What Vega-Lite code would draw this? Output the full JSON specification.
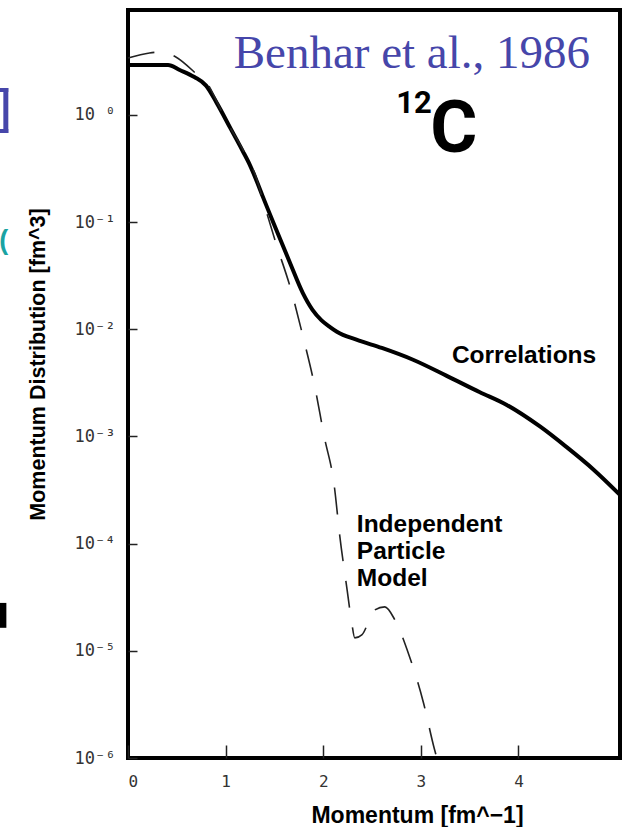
{
  "$schema": "https://vega.github.io/schema/vega-lite/v6.json",
  "width": 492,
  "height": 748,
  "autosize": {"type": "none"},
  "padding": {"left": 128, "top": 10, "right": 9, "bottom": 69},
  "background": "white",
  "config": {
    "view": {"stroke": "black", "strokeWidth": 4},
    "axis": {
      "grid": false,
      "domain": false,
      "tickColor": "#222",
      "tickWidth": 1.5,
      "labelColor": "#333",
      "labelFont": "DejaVu Sans Mono",
      "labelFontSize": 16,
      "titleFont": "Liberation Sans",
      "titleFontWeight": "bold",
      "titleColor": "black"
    }
  },
  "datasets": {
    "correlations": [
      {"momentum": 0, "distribution": 2.93},
      {"momentum": 0.41, "distribution": 2.93},
      {"momentum": 0.53, "distribution": 2.63},
      {"momentum": 0.68, "distribution": 2.26},
      {"momentum": 0.8, "distribution": 1.88},
      {"momentum": 0.91, "distribution": 1.29},
      {"momentum": 1.05, "distribution": 0.75},
      {"momentum": 1.17, "distribution": 0.47},
      {"momentum": 1.25, "distribution": 0.339},
      {"momentum": 1.32, "distribution": 0.24},
      {"momentum": 1.38, "distribution": 0.174},
      {"momentum": 1.52, "distribution": 0.0846},
      {"momentum": 1.66, "distribution": 0.0416},
      {"momentum": 1.79, "distribution": 0.0219},
      {"momentum": 1.89, "distribution": 0.0152},
      {"momentum": 1.98, "distribution": 0.0122},
      {"momentum": 2.07, "distribution": 0.0105},
      {"momentum": 2.14, "distribution": 0.0095},
      {"momentum": 2.34, "distribution": 0.008},
      {"momentum": 2.6, "distribution": 0.0067},
      {"momentum": 2.92, "distribution": 0.0052},
      {"momentum": 3.26, "distribution": 0.0037},
      {"momentum": 3.6, "distribution": 0.0026},
      {"momentum": 3.88, "distribution": 0.00197},
      {"momentum": 4.22, "distribution": 0.00124},
      {"momentum": 4.49, "distribution": 0.0008},
      {"momentum": 4.77, "distribution": 0.00049},
      {"momentum": 5.04, "distribution": 0.000285}
    ],
    "ipm": [
      {"momentum": 0, "distribution": 3.4},
      {"momentum": 0.22, "distribution": 3.79},
      {"momentum": 0.35, "distribution": 3.87},
      {"momentum": 0.49, "distribution": 3.48},
      {"momentum": 0.69, "distribution": 2.46},
      {"momentum": 0.84, "distribution": 1.79},
      {"momentum": 0.91, "distribution": 1.33},
      {"momentum": 1.04, "distribution": 0.78},
      {"momentum": 1.18, "distribution": 0.47},
      {"momentum": 1.32, "distribution": 0.25},
      {"momentum": 1.38, "distribution": 0.163},
      {"momentum": 1.51, "distribution": 0.066},
      {"momentum": 1.67, "distribution": 0.0233},
      {"momentum": 1.795, "distribution": 0.0084},
      {"momentum": 1.913, "distribution": 0.00293},
      {"momentum": 2.01, "distribution": 0.001},
      {"momentum": 2.113, "distribution": 0.000346},
      {"momentum": 2.169, "distribution": 0.000119},
      {"momentum": 2.246, "distribution": 0.0000363},
      {"momentum": 2.292, "distribution": 0.0000182},
      {"momentum": 2.323, "distribution": 0.0000132},
      {"momentum": 2.395, "distribution": 0.0000141},
      {"momentum": 2.528, "distribution": 0.0000241},
      {"momentum": 2.631, "distribution": 0.0000257},
      {"momentum": 2.733, "distribution": 0.0000195},
      {"momentum": 2.877, "distribution": 0.0000092},
      {"momentum": 3.026, "distribution": 0.0000033},
      {"momentum": 3.138, "distribution": 0.00000122},
      {"momentum": 3.164, "distribution": 0.000001}
    ]
  },
  "layer": [
    {
      "data": {"name": "correlations"},
      "mark": {"type": "line", "color": "black", "strokeWidth": 4, "interpolate": "monotone"},
      "encoding": {
        "x": {
          "field": "momentum",
          "type": "quantitative",
          "scale": {"domain": [0, 5.04], "nice": false, "zero": false},
          "axis": {
            "values": [0, 1, 2, 3, 4],
            "format": "d",
            "tickSize": -13,
            "labelPadding": 28,
            "labelBaseline": "top",
            "title": "Momentum [fm^−1]",
            "titleFontSize": 23,
            "titleX": 289,
            "titleY": 64,
            "titleAlign": "center",
            "titleBaseline": "alphabetic"
          }
        },
        "y": {
          "field": "distribution",
          "type": "quantitative",
          "scale": {"type": "log", "domain": [0.000001, 9.54], "nice": false},
          "axis": {
            "values": [0.000001, 0.00001, 0.0001, 0.001, 0.01, 0.1, 1],
            "tickSize": -9,
            "labelPadding": 22,
            "labelFontSize": 17,
            "labelExpr": "datum.value >= 0.5 ? '10 ⁰' : datum.value >= 0.05 ? '10⁻¹' : datum.value >= 0.005 ? '10⁻²' : datum.value >= 0.0005 ? '10⁻³' : datum.value >= 0.00005 ? '10⁻⁴' : datum.value >= 0.000005 ? '10⁻⁵' : '10⁻⁶'",
            "title": "Momentum Distribution [fm^3]",
            "titleFontSize": 21.5,
            "titleAngle": -90,
            "titleX": -84,
            "titleY": 354,
            "titleAlign": "center",
            "titleBaseline": "alphabetic"
          }
        }
      }
    },
    {
      "data": {"name": "ipm"},
      "mark": {"type": "line", "color": "#222", "strokeWidth": 1.6, "strokeDash": [27, 20], "interpolate": "monotone"},
      "encoding": {
        "x": {"field": "momentum", "type": "quantitative"},
        "y": {"field": "distribution", "type": "quantitative"}
      }
    },
    {
      "data": {"values": [{"label": "Correlations"}]},
      "mark": {"type": "text", "align": "left", "baseline": "alphabetic", "font": "Liberation Sans", "fontWeight": "bold", "fontSize": 24.5, "color": "black"},
      "encoding": {
        "x": {"datum": 3.318, "type": "quantitative"},
        "y": {"datum": 0.00486, "type": "quantitative"},
        "text": {"field": "label"}
      }
    },
    {
      "data": {"values": [{"label": "Independent Particle Model"}]},
      "mark": {"type": "text", "text": ["Independent", "Particle", "Model"], "lineHeight": 27, "align": "left", "baseline": "alphabetic", "font": "Liberation Sans", "fontWeight": "bold", "fontSize": 24.5, "color": "black"},
      "encoding": {
        "x": {"datum": 2.344, "type": "quantitative"},
        "y": {"datum": 0.0001288, "type": "quantitative"}
      }
    },
    {
      "data": {"values": [{"label": "Benhar et al., 1986"}]},
      "mark": {"type": "text", "align": "right", "baseline": "alphabetic", "font": "Liberation Serif", "fontSize": 47, "color": "#4646aa"},
      "encoding": {
        "x": {"datum": 4.733, "type": "quantitative"},
        "y": {"datum": 2.74, "type": "quantitative"},
        "text": {"field": "label"}
      }
    },
    {
      "data": {"values": [{"label": "12"}]},
      "mark": {"type": "text", "align": "right", "baseline": "alphabetic", "font": "Roboto", "fontWeight": "bold", "fontSize": 31, "color": "black"},
      "encoding": {
        "x": {"datum": 3.113, "type": "quantitative"},
        "y": {"datum": 1.04, "type": "quantitative"},
        "text": {"field": "label"}
      }
    },
    {
      "data": {"values": [{"label": "C"}]},
      "mark": {"type": "text", "align": "center", "baseline": "alphabetic", "font": "Roboto", "fontWeight": "bold", "fontSize": 72, "color": "black"},
      "encoding": {
        "x": {"datum": 3.338, "type": "quantitative"},
        "y": {"datum": 0.452, "type": "quantitative"},
        "text": {"field": "label"}
      }
    },
    {
      "data": {"values": [{"part": "bracket stem"}]},
      "mark": {"type": "rect", "color": "#4646aa"},
      "encoding": {
        "x": {"datum": -1.277, "type": "quantitative"},
        "x2": {"datum": -1.226},
        "y": {"datum": 1.786, "type": "quantitative"},
        "y2": {"datum": 0.679}
      }
    },
    {
      "data": {"values": [{"part": "bracket top"}]},
      "mark": {"type": "rect", "color": "#4646aa"},
      "encoding": {
        "x": {"datum": -1.318, "type": "quantitative"},
        "x2": {"datum": -1.226},
        "y": {"datum": 1.786, "type": "quantitative"},
        "y2": {"datum": 1.639}
      }
    },
    {
      "data": {"values": [{"part": "bracket bottom"}]},
      "mark": {"type": "rect", "color": "#4646aa"},
      "encoding": {
        "x": {"datum": -1.318, "type": "quantitative"},
        "x2": {"datum": -1.226},
        "y": {"datum": 0.74, "type": "quantitative"},
        "y2": {"datum": 0.679}
      }
    },
    {
      "data": {"values": [{"label": "("}]},
      "mark": {"type": "text", "align": "left", "baseline": "alphabetic", "font": "Liberation Sans", "fontWeight": "bold", "fontSize": 27, "color": "#1aa3a3"},
      "encoding": {
        "x": {"datum": -1.318, "type": "quantitative"},
        "y": {"datum": 0.0562, "type": "quantitative"},
        "text": {"field": "label"}
      }
    },
    {
      "data": {"values": [{"part": "block"}]},
      "mark": {"type": "rect", "color": "black"},
      "encoding": {
        "x": {"datum": -1.318, "type": "quantitative"},
        "x2": {"datum": -1.246},
        "y": {"datum": 0.000028, "type": "quantitative"},
        "y2": {"datum": 0.0000164}
      }
    }
  ]
}
